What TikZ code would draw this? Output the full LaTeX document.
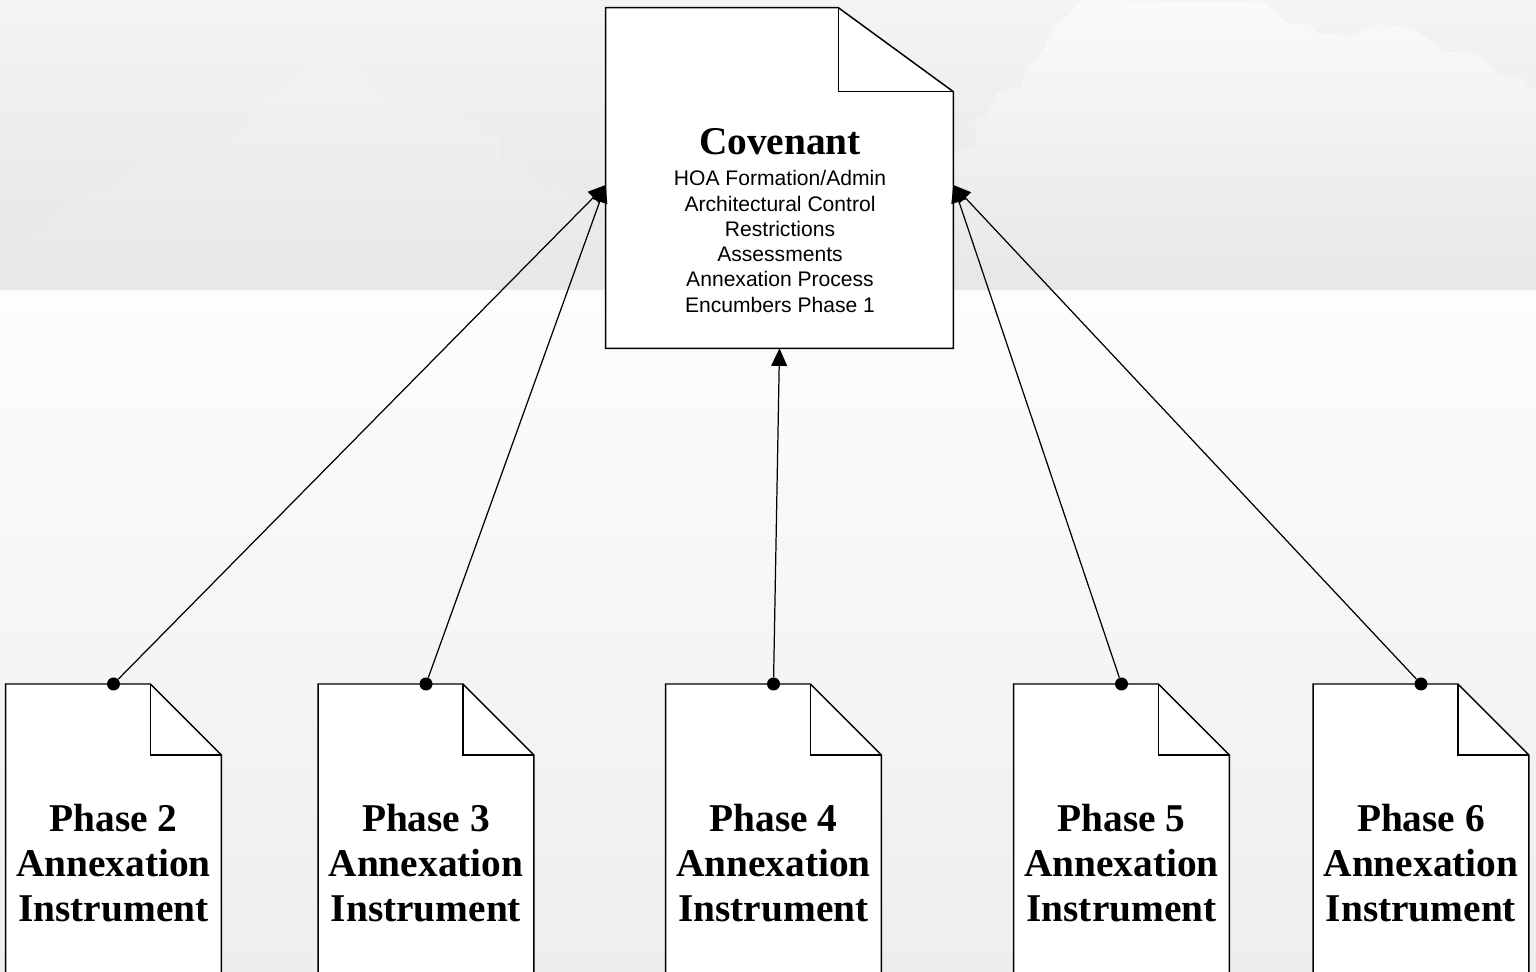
\documentclass[tikz,border=0pt]{standalone}
\usepackage{fontspec}
\setmainfont{Liberation Serif}
\setsansfont{Liberation Sans}
\usetikzlibrary{arrows.meta,calc}

\definecolor{skytop}{HTML}{F4F4F4}
\definecolor{skybot}{HTML}{E5E5E5}
\definecolor{cloudatop}{HTML}{F6F6F6}
\definecolor{cloudabot}{HTML}{E7E7E7}
\definecolor{cloudbtop}{HTML}{FAFAFA}
\definecolor{cloudbbot}{HTML}{E7E7E7}
\definecolor{floortop}{HTML}{FDFDFD}
\definecolor{floorbot}{HTML}{EEEEEE}

\pgfdeclarelayer{paper}
\pgfsetlayers{paper,main}

\tikzset{
  docbox/.style={minimum width=4.3cm, minimum height=7.16cm, inner sep=0pt, align=center,
    font=\bfseries\fontsize{22.4}{25.5}\selectfont},
  docline/.style={line width=0.85pt, fill=white},
  link/.style={line width=0.7pt, -{Triangle[length=10pt,width=9pt]}},
  pin/.style={circle, fill=black, inner sep=0pt, minimum size=7.4pt}
}

\begin{document}
\begin{tikzpicture}[x=0.02cm,y=-0.02cm]
  \clip (0,0) rectangle (1536,972);

  % Covenant document
  \node[minimum width=6.94cm, minimum height=6.8cm, inner sep=0pt] (cov) at (779.5,178) {};
  \node[font=\bfseries\fontsize{22.4}{25.5}\selectfont] (covtitle) at (780,142) {Covenant};
  \node[align=center, font=\sffamily\fontsize{12}{14.4}\selectfont] (covlist) at (780,241.5)
    {HOA Formation/Admin\\Architectural Control\\Restrictions\\Assessments\\Annexation Process\\Encumbers Phase 1};
  \coordinate (cl) at ($(cov.west)+(0,7)$);
  \coordinate (cr) at ($(cov.east)+(0,7)$);

  % Annexation instruments
  \foreach \n/\x in {2/113.5, 3/426, 4/773.5, 5/1121.5, 6/1421}
    \node[docbox, anchor=north] (p\n) at (\x,684) {Phase \n\\Annexation\\Instrument};

  \begin{pgfonlayer}{paper}
    % background
    \shade[top color=skytop, bottom color=skybot] (0,0) rectangle (1536,290);
    \shade[top color=floortop, bottom color=floorbot] (0,290) rectangle (1536,972);

    % clouds
    \begin{scope}
      \clip (0,290) -- (0,247) -- (46,227) -- (77,197) -- (115,182)
        -- (138,164) -- (188,162) -- (230,140) -- (243,133) -- (256,102) -- (285,87) -- (317,63)
        -- (362,71) -- (375,91) -- (406,113) -- (419,99) -- (431,108) -- (448,108) -- (455,99)
        -- (466,125) -- (478,125) -- (488,136) -- (499,132) -- (501,160) -- (522,161) -- (543,186)
        -- (559,182) -- (574,197) -- (606,230) -- (606,290) -- cycle;
      \shade[top color=cloudatop, bottom color=cloudabot] (0,0) rectangle (1536,290);
    \end{scope}
    \begin{scope}
      \clip (953,290) -- (953,150) -- (975,148) -- (975,119)
        -- (984,118) -- (997,93) -- (1008,92) -- (1013,86) -- (1021,87) -- (1028,67) -- (1045,47)
        -- (1052,27) -- (1072,12) -- (1081,0) -- (1265,3) -- (1287,23) -- (1307,23) -- (1317,33)
        -- (1350,36) -- (1375,24) -- (1412,28) -- (1434,43) -- (1443,52) -- (1478,53) -- (1499,75)
        -- (1521,76) -- (1528,88) -- (1536,90) -- (1536,290) -- cycle;
      \shade[top color=cloudbtop, bottom color=cloudbbot] (0,0) rectangle (1536,290);
    \end{scope}

    % paper outlines
    \draw[docline] (cov.north west) -- ($(cov.north east)+(-115,0)$) -- ($(cov.north east)+(0,84)$)
      -- (cov.south east) -- (cov.south west) -- cycle;
    \draw[line width=0.85pt] ($(cov.north east)+(-115,0)$) |- ($(cov.north east)+(0,84)$);
    \foreach \n in {2,...,6} {
      \draw[docline] (p\n.north west) -- ($(p\n.north east)+(-71,0)$) -- ($(p\n.north east)+(0,71)$)
        -- (p\n.south east) -- (p\n.south west) -- cycle;
      \draw[line width=0.85pt] ($(p\n.north east)+(-71,0)$) |- ($(p\n.north east)+(0,71)$);
    }
  \end{pgfonlayer}

  % links
  \foreach \n in {2,...,6}
    \node[pin] (d\n) at (p\n.north) {};
  \draw[link] (d2) -- (cl);
  \draw[link] (d3) -- (cl);
  \draw[link] (d4) -- (cov.south);
  \draw[link] (d5) -- (cr);
  \draw[link] (d6) -- (cr);
\end{tikzpicture}
\end{document}
